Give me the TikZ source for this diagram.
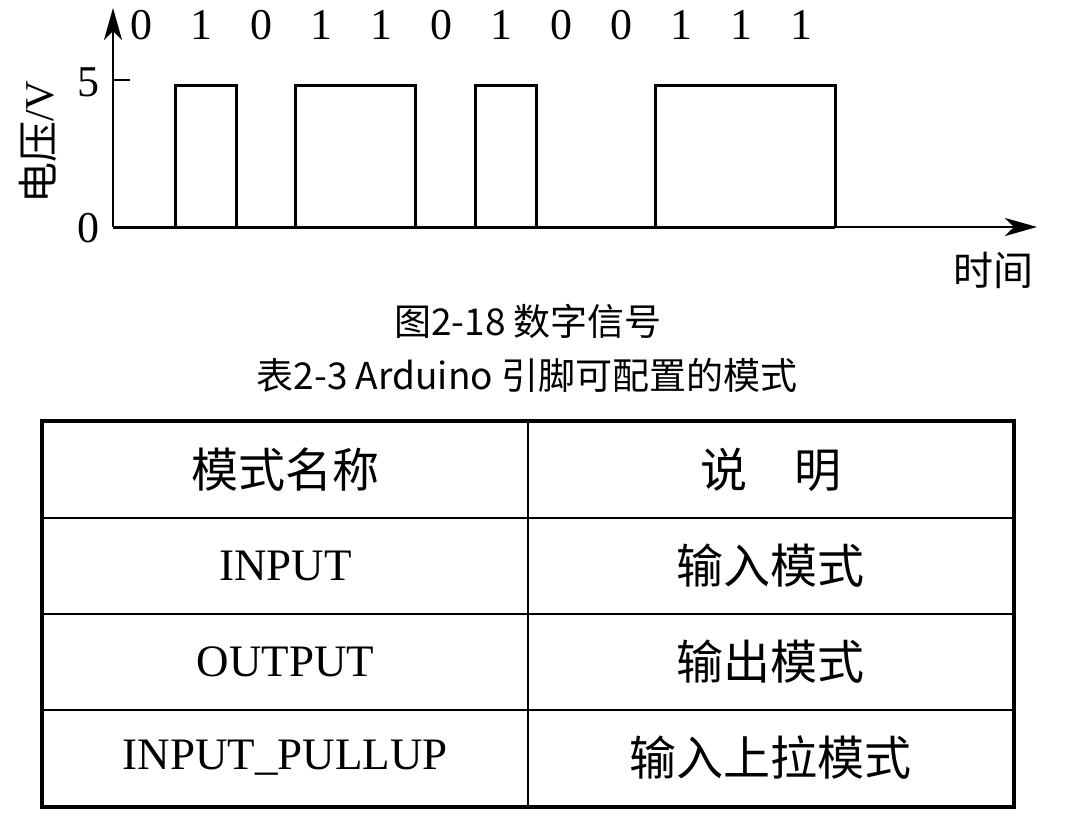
\documentclass[tikz,border=0pt]{standalone}
\usepackage{fontspec}
\setmainfont{Liberation Serif}
\newfontfamily\cjk{Noto Sans CJK SC}
\usetikzlibrary{arrows.meta}
\newcommand{\fsz}[1]{\fontsize{#1}{#1}\selectfont}

\begin{document}
\begin{tikzpicture}[x=1pt,y=-1pt]

      \useasboundingbox (0,0) rectangle (1078,816);

      \coordinate (o)    at (113,227);
      \coordinate (ytop) at (113,8);
      \coordinate (xend) at (1037,227);
      \coordinate (t5)   at (130,80);

      \draw[line width=2pt,-{Stealth[length=32pt,width=18pt,inset=9pt]}] (o) -- (ytop);
      \draw[line width=2pt,-{Stealth[length=32pt,width=18pt,inset=9pt]}] (o) -- (xend);
      \draw[line width=2pt] (113,80) -- (t5);

      \begin{scope}[line width=3pt]
        \draw (175,227) |- (236,85) -- (236,227);
        \draw (295,227) |- (415,85) -- (415,227);
        \draw (475,227) |- (536,85) -- (536,227);
        \draw (655,227) |- (835,85) -- (835,227);
        \draw (113,227) -- (835,227);
      \end{scope}

      \begin{scope}[every node/.style={font=\fsz{44}}]
        \node (b0)  at (141,25) {0};
        \node (b1)  at (201,25) {1};
        \node (b2)  at (261,25) {0};
        \node (b3)  at (321,25) {1};
        \node (b4)  at (381,25) {1};
        \node (b5)  at (441,25) {0};
        \node (b6)  at (501,25) {1};
        \node (b7)  at (561,25) {0};
        \node (b8)  at (621,25) {0};
        \node (b9)  at (681,25) {1};
        \node (b10) at (741,25) {1};
        \node (b11) at (801,25) {1};
        \node (v5)  at (88,82)  {5};
        \node (v0)  at (88,228) {0};
      \end{scope}

      \node[font=\fsz{41},rotate=90] (volt) at (38,142) {{\cjk 电压}/V};
      \node[font=\fsz{40}\cjk] (time) at (993,270) {时间};

      \node[font=\fsz{37}\cjk] (cap1) at (528,321) {图2-18 数字信号};
      \node[font=\fsz{37}\cjk] (cap2) at (527,375) {表2-3 Arduino 引脚可配置的模式};

      \begin{scope}[every node/.style={draw,line width=2.5pt,inner sep=0pt,
          minimum width=485pt,minimum height=96pt,font=\fsz{45}}]
        \node (n1) at (285.5,470) {\fsz{47}\cjk 模式名称};
        \node (n2) at (285.5,566) {INPUT};
        \node (n3) at (285.5,662) {OUTPUT};
        \node (n4) at (285.5,758) {INPUT\_PULLUP};
        \node (d1) at (770.5,470) {\fsz{47}\cjk 说　明};
        \node (d2) at (770.5,566) {\fsz{47}\cjk 输入模式};
        \node (d3) at (770.5,662) {\fsz{47}\cjk 输出模式};
        \node (d4) at (770.5,758) {\fsz{47}\cjk 输入上拉模式};
      \end{scope}

      \draw[line width=3.5pt] (n1.north west) rectangle (d4.south east);

    \end{tikzpicture}
\end{document}
